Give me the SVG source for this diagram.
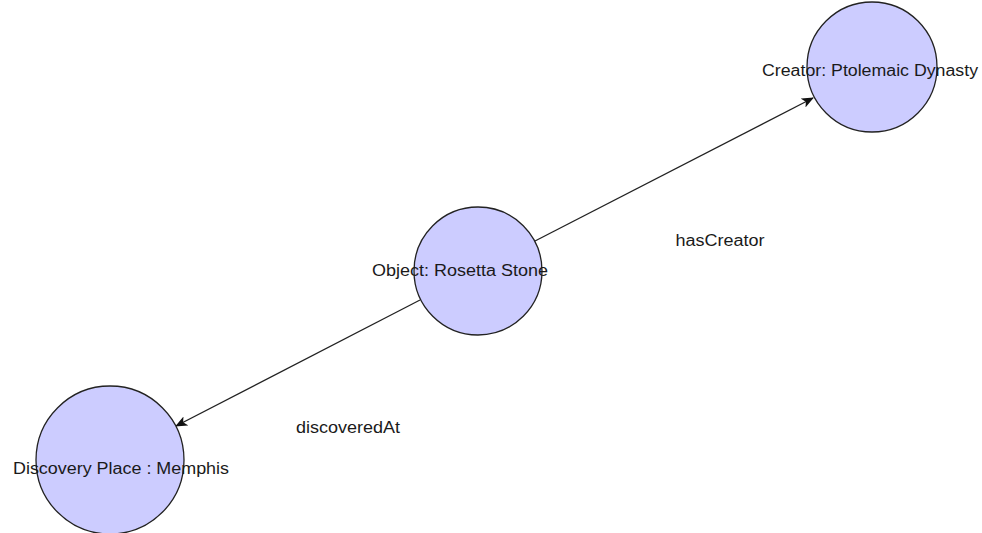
<svg xmlns="http://www.w3.org/2000/svg" width="982" height="533" viewBox="0 0 982 533">
  <style>
    .node { fill: #ccccff; stroke: #222222; stroke-width: 1.3; }
    .edge { fill: none; stroke: #222222; stroke-width: 1.3; }
    .label { font-family: "Liberation Sans", Arial, sans-serif; font-size: 16px; fill: #1a1a1a; text-anchor: middle; }
  </style>
  <defs>
    <marker id="arrow" viewBox="0 0 12 10" refX="11" refY="5" markerWidth="12" markerHeight="10" markerUnits="userSpaceOnUse" orient="auto">
      <path d="M0,0 L12,5 L0,10 L3,5 Z" fill="#111111"/>
    </marker>
  </defs>

  <rect width="982" height="533" fill="#ffffff"/>

  <g id="connectors">
    <g id="edge-hasCreator">
      <line class="edge" x1="535" y1="241" x2="813" y2="98" marker-end="url(#arrow)"/>
      <text class="label" x="720" y="246" textLength="89" lengthAdjust="spacingAndGlyphs">hasCreator</text>
    </g>
    <g id="edge-discoveredAt">
      <line class="edge" x1="420" y1="300" x2="176" y2="426" marker-end="url(#arrow)"/>
      <text class="label" x="348" y="433" textLength="104" lengthAdjust="spacingAndGlyphs">discoveredAt</text>
    </g>
  </g>

  <g id="node-object">
    <circle class="node" cx="478" cy="271" r="64"/>
    <text class="label" x="460" y="276" textLength="176" lengthAdjust="spacingAndGlyphs">Object: Rosetta Stone</text>
  </g>

  <g id="node-creator">
    <circle class="node" cx="872" cy="67" r="65"/>
    <text class="label" x="870" y="76" textLength="216" lengthAdjust="spacingAndGlyphs">Creator: Ptolemaic Dynasty</text>
  </g>

  <g id="node-place">
    <circle class="node" cx="110" cy="460" r="74"/>
    <text class="label" x="121" y="474" textLength="216" lengthAdjust="spacingAndGlyphs">Discovery Place : Memphis</text>
  </g>
</svg>
